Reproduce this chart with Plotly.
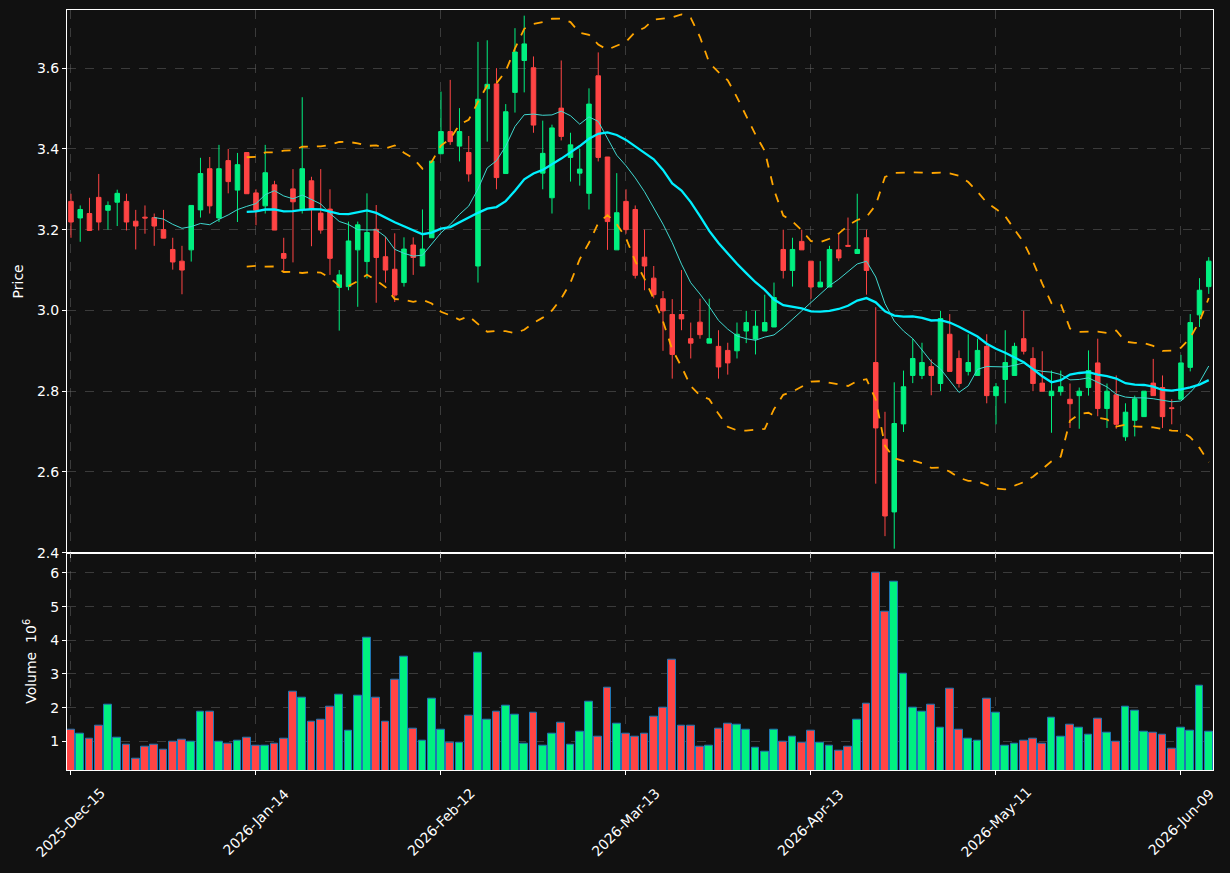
import numpy as np
import pandas as pd
import plotly.graph_objects as go
from plotly.subplots import make_subplots

# ---------------- data ----------------
holidays = ['2025-12-25', '2026-01-01', '2026-01-19', '2026-02-16', '2026-04-03', '2026-05-25']
dates = pd.bdate_range('2025-12-15', periods=124, freq='C', holidays=holidays)
date_labels = list(dates.strftime('%Y-%b-%d'))

opens = [3.270, 3.229, 3.240, 3.280, 3.248, 3.268, 3.270, 3.221, 3.231, 3.230,
         3.200, 3.151, 3.122, 3.150, 3.249, 3.351, 3.229, 3.371, 3.298, 3.391,
         3.291, 3.259, 3.311, 3.141, 3.301, 3.251, 3.321, 3.241, 3.251, 3.057,
         3.059, 3.150, 3.121, 3.201, 3.133, 3.102, 3.069, 3.162, 3.110, 3.180,
         3.388, 3.443, 3.407, 3.391, 3.110, 3.549, 3.561, 3.339, 3.540, 3.619,
         3.601, 3.340, 3.279, 3.501, 3.379, 3.340, 3.290, 3.581, 3.380, 3.150,
         3.270, 3.250, 3.132, 3.080, 3.029, 2.990, 2.990, 2.930, 2.971, 2.919,
         2.911, 2.901, 2.900, 2.949, 2.929, 2.949, 2.959, 3.151, 3.099, 3.171,
         3.122, 3.058, 3.058, 3.150, 3.161, 3.141, 3.180, 2.871, 2.681, 2.501,
         2.719, 2.839, 2.839, 2.861, 2.819, 2.941, 2.881, 2.849, 2.839, 2.911,
         2.789, 2.829, 2.839, 2.930, 2.881, 2.820, 2.789, 2.799, 2.780, 2.789,
         2.809, 2.870, 2.757, 2.791, 2.687, 2.728, 2.737, 2.820, 2.809, 2.759,
         2.780, 2.859, 2.989, 3.059]
highs = [3.289, 3.260, 3.279, 3.338, 3.270, 3.299, 3.289, 3.249, 3.260, 3.240,
         3.249, 3.180, 3.160, 3.260, 3.378, 3.380, 3.410, 3.400, 3.390, 3.391,
         3.300, 3.410, 3.321, 3.180, 3.350, 3.528, 3.331, 3.350, 3.300, 3.100,
         3.220, 3.220, 3.290, 3.261, 3.183, 3.191, 3.181, 3.181, 3.250, 3.370,
         3.542, 3.571, 3.501, 3.432, 3.665, 3.669, 3.600, 3.511, 3.699, 3.730,
         3.629, 3.470, 3.460, 3.619, 3.440, 3.400, 3.550, 3.639, 3.380, 3.340,
         3.300, 3.260, 3.200, 3.110, 3.048, 3.028, 3.100, 2.970, 3.029, 3.029,
         2.951, 2.920, 2.970, 2.999, 2.999, 3.039, 3.069, 3.200, 3.180, 3.200,
         3.122, 3.122, 3.160, 3.190, 3.230, 3.289, 3.200, 3.008, 2.749, 2.822,
         2.851, 2.930, 2.920, 2.879, 2.999, 2.991, 2.901, 2.941, 2.930, 2.941,
         2.820, 2.951, 2.920, 2.999, 2.909, 2.899, 2.851, 2.851, 2.819, 2.809,
         2.901, 2.930, 2.819, 2.839, 2.770, 2.789, 2.800, 2.880, 2.839, 2.780,
         2.890, 2.991, 3.080, 3.132]
lows = [3.180, 3.170, 3.198, 3.198, 3.200, 3.209, 3.198, 3.151, 3.190, 3.160,
        3.179, 3.101, 3.040, 3.121, 3.230, 3.240, 3.219, 3.290, 3.219, 3.289,
        3.211, 3.240, 3.199, 3.098, 3.119, 3.240, 3.159, 3.190, 3.088, 2.950,
        3.050, 3.009, 3.079, 3.019, 3.069, 3.021, 3.059, 3.088, 3.110, 3.180,
        3.388, 3.410, 3.369, 3.319, 3.069, 3.418, 3.300, 3.339, 3.490, 3.540,
        3.440, 3.300, 3.240, 3.421, 3.319, 3.309, 3.250, 3.369, 3.150, 3.150,
        3.190, 3.079, 3.050, 3.030, 2.900, 2.831, 2.951, 2.881, 2.930, 2.919,
        2.831, 2.841, 2.881, 2.919, 2.891, 2.949, 2.959, 3.079, 3.059, 3.150,
        3.029, 3.058, 3.058, 3.122, 3.159, 3.141, 3.039, 2.571, 2.441, 2.410,
        2.699, 2.820, 2.830, 2.790, 2.800, 2.849, 2.809, 2.839, 2.839, 2.770,
        2.718, 2.770, 2.839, 2.891, 2.800, 2.800, 2.697, 2.789, 2.709, 2.707,
        2.789, 2.738, 2.709, 2.707, 2.677, 2.688, 2.737, 2.789, 2.709, 2.718,
        2.780, 2.849, 2.959, 3.041]
closes = [3.219, 3.250, 3.198, 3.219, 3.260, 3.290, 3.219, 3.209, 3.229, 3.209,
          3.179, 3.120, 3.100, 3.260, 3.339, 3.259, 3.351, 3.319, 3.361, 3.289,
          3.248, 3.341, 3.199, 3.129, 3.269, 3.351, 3.251, 3.199, 3.129, 3.088,
          3.172, 3.212, 3.193, 3.131, 3.100, 3.038, 3.152, 3.131, 3.152, 3.370,
          3.443, 3.418, 3.443, 3.338, 3.523, 3.560, 3.329, 3.492, 3.640, 3.660,
          3.459, 3.389, 3.452, 3.431, 3.410, 3.350, 3.511, 3.379, 3.220, 3.242,
          3.200, 3.087, 3.110, 3.039, 2.999, 2.891, 2.979, 2.919, 2.940, 2.930,
          2.860, 2.870, 2.941, 2.970, 2.961, 2.970, 3.032, 3.099, 3.151, 3.150,
          3.058, 3.070, 3.151, 3.130, 3.159, 3.151, 3.099, 2.709, 2.491, 2.720,
          2.811, 2.881, 2.871, 2.839, 2.980, 2.849, 2.819, 2.871, 2.901, 2.789,
          2.811, 2.871, 2.911, 2.899, 2.819, 2.800, 2.800, 2.811, 2.769, 2.800,
          2.851, 2.757, 2.800, 2.718, 2.748, 2.781, 2.800, 2.789, 2.737, 2.757,
          2.870, 2.970, 3.050, 3.122]
volumes = [1.35, 1.23, 1.09, 1.45, 2.09, 1.11, 0.90, 0.48, 0.85, 0.90,
           0.75, 0.99, 1.05, 0.99, 1.88, 1.88, 0.99, 0.93, 1.02, 1.12,
           0.87, 0.87, 0.93, 1.09, 2.46, 2.30, 1.59, 1.63, 2.04, 2.39,
           1.32, 2.36, 4.09, 2.30, 1.59, 2.82, 3.52, 1.39, 1.02, 2.27,
           1.35, 0.96, 0.96, 1.76, 3.64, 1.65, 1.88, 2.06, 1.79, 0.93,
           1.85, 0.87, 1.23, 1.56, 0.90, 1.29, 2.18, 1.15, 2.60, 1.53,
           1.23, 1.15, 1.24, 1.74, 2.01, 3.41, 1.45, 1.45, 0.85, 0.88,
           1.39, 1.51, 1.48, 1.36, 0.82, 0.70, 1.36, 1.00, 1.15, 0.97,
           1.33, 0.97, 0.88, 0.73, 0.85, 1.63, 2.13, 6.00, 4.84, 5.73,
           3.02, 2.01, 1.89, 2.10, 1.42, 2.55, 1.36, 1.09, 1.03, 2.28,
           1.86, 0.88, 0.94, 1.03, 1.09, 0.94, 1.71, 1.15, 1.48, 1.42,
           1.21, 1.68, 1.27, 1.00, 2.04, 1.92, 1.30, 1.27, 1.21, 0.79,
           1.42, 1.33, 2.64, 1.30]  # millions

tick_step = 20
price_ticks = [2.4, 2.6, 2.8, 3.0, 3.2, 3.4, 3.6]
volume_ticks = [1, 2, 3, 4, 5, 6]

# ---------------- indicators (computed from closes) ----------------
close_s = pd.Series(closes)
ma10 = close_s.rolling(10).mean()
ma20 = close_s.rolling(20).mean()
sd20 = close_s.rolling(20).std(ddof=0)
upper = ma20 + 2 * sd20
lower = ma20 - 2 * sd20

UP = '#00F080'
DOWN = '#FF4444'
BG = '#111111'
GRID = 'rgba(110,110,110,0.45)'
FONT = 'DejaVu Sans'
FS = 14

fig = make_subplots(rows=2, cols=1, shared_xaxes=True, vertical_spacing=0,
                    row_heights=[542, 217])

fig.add_trace(go.Candlestick(
    x=date_labels, open=opens, high=highs, low=lows, close=closes,
    increasing=dict(line=dict(color=UP, width=1), fillcolor=UP),
    decreasing=dict(line=dict(color=DOWN, width=1), fillcolor=DOWN),
    whiskerwidth=0, showlegend=False, name='Price'), row=1, col=1)

fig.add_trace(go.Scatter(x=date_labels, y=ma10, mode='lines',
                         line=dict(color='#40D8D0', width=1), showlegend=False), row=1, col=1)
fig.add_trace(go.Scatter(x=date_labels, y=ma20, mode='lines',
                         line=dict(color='#00F0FF', width=2.3), showlegend=False), row=1, col=1)
fig.add_trace(go.Scatter(x=date_labels, y=upper, mode='lines',
                         line=dict(color='#FFA500', width=1.8, dash='dash'), showlegend=False), row=1, col=1)
fig.add_trace(go.Scatter(x=date_labels, y=lower, mode='lines',
                         line=dict(color='#FFA500', width=1.8, dash='dash'), showlegend=False), row=1, col=1)

vol_colors = [UP if c >= o else DOWN for o, c in zip(opens, closes)]
fig.add_trace(go.Bar(x=date_labels, y=volumes, marker=dict(color=vol_colors,
                     line=dict(color='#1f77b4', width=1)), width=0.86,
                     showlegend=False, name='Volume'), row=2, col=1)

tickvals = date_labels[::tick_step]

axis_common = dict(showline=True, linecolor='white', linewidth=1, mirror=True,
                   showgrid=True, gridcolor=GRID, griddash='dash', gridwidth=1,
                   ticks='outside', tickcolor='white', ticklen=4, zeroline=False,
                   tickfont=dict(color='white', size=FS, family=FONT))

fig.update_xaxes(**axis_common, type='category', range=[-0.43, 123.46],
                 tickvals=tickvals, rangeslider=dict(visible=False), showticklabels=False)

# rotated date labels centred on their ticks (matplotlib style)
for lab in tickvals:
    fig.add_annotation(x=lab, xref='x2', y=-52 / 760, yref='paper', text=lab,
                       textangle=-45, showarrow=False, xanchor='center', yanchor='middle',
                       font=dict(color='white', size=FS, family=FONT))

fig.update_yaxes(**axis_common)
fig.update_yaxes(range=[2.4, 3.744], tickvals=price_ticks, tickformat='.1f',
                 title=dict(text='Price', font=dict(color='white', size=FS, family=FONT), standoff=10),
                 row=1, col=1)
fig.update_yaxes(range=[0.15, 6.6], tickvals=volume_ticks,
                 title=dict(text='Volume  10<sup>6</sup>', font=dict(color='white', size=FS, family=FONT), standoff=10),
                 row=2, col=1)

fig.update_layout(width=1230, height=873, paper_bgcolor=BG, plot_bgcolor=BG,
                  margin=dict(l=67, r=17, t=10, b=103), bargap=0,
                  font=dict(family=FONT, color='white', size=FS), showlegend=False)

fig.write_html('out.html')
